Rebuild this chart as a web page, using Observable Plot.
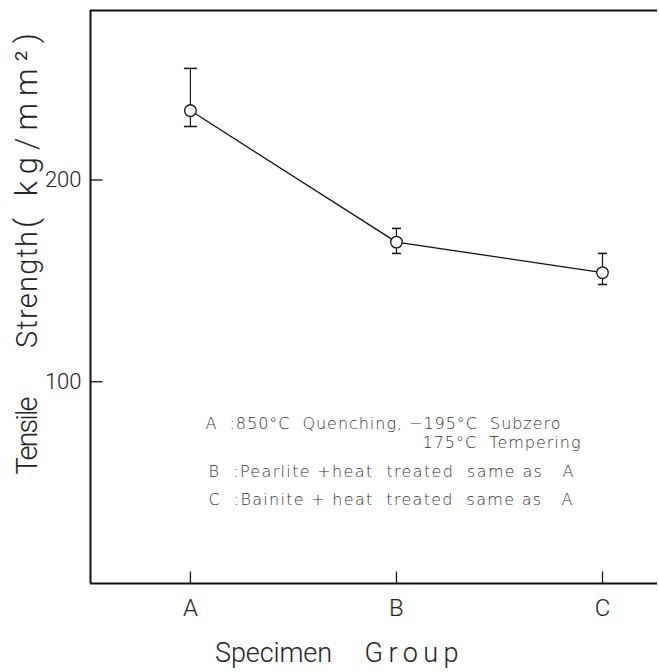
<!DOCTYPE html>
<html>
<head>
<meta charset="utf-8">
<script src="https://cdn.jsdelivr.net/npm/d3@7"></script>
<script src="https://cdn.jsdelivr.net/npm/@observablehq/plot@0.6"></script>
<style>
  html, body { margin: 0; padding: 0; background: #fff; }
  svg text { white-space: pre; }
</style>
</head>
<body>
<div id="chart"></div>
<script>
// ---- data ----
const groups = ["A", "B", "C"];
const strength = [234.4, 169.2, 154.1];
const errUpper = [255.3, 176.0, 163.6];
const errLower = [226.5, 163.6, 148.2];
const yTicks = [100, 200];
const yLabelWords = ["Tensile", "Strength", "( kg/mm²)"];
const xLabelWords = ["Specimen", "Group"];
const notes = [
  "A  :850°C  Quenching, −195°C  Subzero",
  "175°C  Tempering",
  "B  :Pearlite +heat  treated  same as   A",
  "C  :Bainite + heat  treated  same as   A"
];

const points = groups.map((g, i) => ({i, g, v: strength[i], hi: errUpper[i], lo: errLower[i]}));
const xIdx = groups.map((g, i) => i);

const xDomain = [-0.485, 2.267];
const yDomain = [0, 284];

const font = "Roboto, 'DejaVu Sans', sans-serif";
const noteFont = "'DejaVu Sans', Roboto, sans-serif";

// custom symbols
const hCap = {draw(ctx, size) { const r = Math.sqrt(size / Math.PI); ctx.moveTo(-r, 0); ctx.lineTo(r, 0); }};
const tickRight = {draw(ctx, size) { const r = Math.sqrt(size / Math.PI); ctx.moveTo(0, 0); ctx.lineTo(2 * r, 0); }};
const tickUp = {draw(ctx, size) { const r = Math.sqrt(size / Math.PI); ctx.moveTo(0, 0); ctx.lineTo(0, -2 * r); }};

// layout of annotation text (pixel offsets from frame corner)
const noteDx = [115, 332, 118, 118];
const noteDy = [413, 432, 461, 489];
const noteLen = [355, 158, 365, 364];
const yWordDy = [425, 279, 120];
const yWordSize = [29, 29, 31];
const yWordLen = [78, 117, 195];
const xWordDx = [183, 321];
const xWordSize = [27, 27];
const xWordLen = [117, 94];

const chart = Plot.plot({
  width: 659,
  height: 672,
  marginLeft: 90,
  marginTop: 10,
  marginRight: 2,
  marginBottom: 89,
  style: {fontFamily: font, background: "#fff", color: "#111"},
  x: {type: "linear", domain: xDomain},
  y: {domain: yDomain},
  marks: [
    // frame (left, top, bottom)
    Plot.ruleX([xDomain[0]], {stroke: "#111", strokeWidth: 2}),
    Plot.ruleY([yDomain[1]], {stroke: "#111", strokeWidth: 2}),
    Plot.ruleY([yDomain[0]], {stroke: "#111", strokeWidth: 2}),
    // inward ticks
    Plot.dot(yTicks, {x: () => xDomain[0], y: d => d, symbol: tickRight, r: 6, fill: "none", stroke: "#111", strokeWidth: 1.3}),
    Plot.dot(xIdx, {x: d => d, y: () => yDomain[0], symbol: tickUp, r: 6, fill: "none", stroke: "#111", strokeWidth: 1.3}),
    // axes labels
    Plot.axisY(yTicks, {tickSize: 0, tickPadding: 9, fontSize: 22, fontWeight: 300, label: null, fill: "#222"}),
    Plot.axisX(xIdx, {tickSize: 0, tickPadding: 15, fontSize: 24, fontWeight: 300, label: null, tickFormat: i => groups[i], fill: "#222"}),
    // error bars
    Plot.ruleX(points, {x: "i", y1: "lo", y2: "hi", stroke: "#111", strokeWidth: 1.2}),
    Plot.dot(points, {x: "i", y: "hi", symbol: hCap, r: 6.5, filter: d => d.i === 0, fill: "none", stroke: "#111", strokeWidth: 1.5}),
    Plot.dot(points, {x: "i", y: "lo", symbol: hCap, r: 6.5, filter: d => d.i === 0, fill: "none", stroke: "#111", strokeWidth: 1.5}),
    Plot.dot(points, {x: "i", y: "hi", symbol: hCap, r: 4.5, filter: d => d.i !== 0, fill: "none", stroke: "#111", strokeWidth: 1.5}),
    Plot.dot(points, {x: "i", y: "lo", symbol: hCap, r: 4.5, filter: d => d.i !== 0, fill: "none", stroke: "#111", strokeWidth: 1.5}),
    // line + circles
    Plot.line(points, {x: "i", y: "v", stroke: "#111", strokeWidth: 1.3}),
    Plot.dot(points, {x: "i", y: "v", r: 5.8, fill: "white", stroke: "#111", strokeWidth: 1.3}),
    // y-axis title words
    ...yLabelWords.map((w, k) => Plot.text([w], {frameAnchor: "top-left", dx: -63, dy: yWordDy[k], text: d => d, rotate: -90, textAnchor: "middle", lineAnchor: "middle", fontSize: yWordSize[k], fontWeight: 300, fill: "#222"})),
    // x-axis title words
    ...xLabelWords.map((w, k) => Plot.text([w], {frameAnchor: "bottom-left", dx: xWordDx[k], dy: 70, text: d => d, textAnchor: "middle", lineAnchor: "middle", fontSize: xWordSize[k], fontWeight: 300, fill: "#222"})),
    // legend notes
    ...notes.map((n, k) => Plot.text([n], {frameAnchor: "top-left", dx: noteDx[k], dy: noteDy[k], text: d => d, textAnchor: "start", lineAnchor: "middle", fontSize: 16, fontWeight: 200, fontFamily: noteFont, fill: "#333"}))
  ]
});

// stretch annotation text to the widths seen in the reference
const stretch = (str, len) => {
  chart.querySelectorAll("text").forEach(t => {
    if (t.textContent === str) {
      t.setAttribute("textLength", len);
      t.setAttribute("lengthAdjust", "spacing");
    }
  });
};
notes.forEach((n, k) => stretch(n, noteLen[k]));
yLabelWords.forEach((w, k) => stretch(w, yWordLen[k]));
xLabelWords.forEach((w, k) => stretch(w, xWordLen[k]));

document.getElementById("chart").appendChild(chart);
</script>
</body>
</html>
